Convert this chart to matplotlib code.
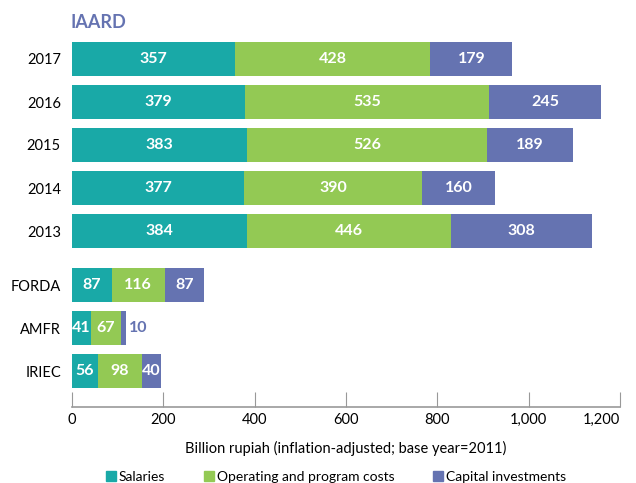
import matplotlib
matplotlib.use('Agg')
from matplotlib import pyplot as plt
from matplotlib.patches import Patch

plt.rcParams['font.family'] = ['Lato', 'DejaVu Sans']

# Rows from top to bottom.
labels: list[str] = ['2017', '2016', '2015', '2014', '2013', 'FORDA', 'AMFR', 'IRIEC']
salaries: list[int] = [357, 379, 383, 377, 384, 87, 41, 56]
operating: list[int] = [428, 535, 526, 390, 446, 116, 67, 98]
capital: list[int] = [179, 245, 189, 160, 308, 87, 10, 40]

series_names: list[str] = ['Salaries', 'Operating and program costs', 'Capital investments']
colors: list[str] = ['#19a9a7', '#93c954', '#6573b1']
title_color: str = '#6573b1'

# Years are evenly spaced; the three agencies sit below with a slightly bigger gap.
positions: list[float] = [i if i < 5 else i + 0.256 for i in range(len(labels))]

fig = plt.figure(figsize=(6.36, 4.83), dpi=100)
ax = fig.add_axes([72 / 636, 1 - 407 / 483, 548 / 636, (407 - 30) / 483])

left = [0] * len(labels)
for name, values, color in zip(series_names, [salaries, operating, capital], colors):
    ax.barh(positions, values, left=left, height=0.79, color=color, label=name)
    for pos, start, value in zip(positions, left, values):
        if value >= 30:
            ax.text(start + value / 2, pos, str(value), ha='center', va='center',
                    color='white', fontsize=11.5, fontweight='bold')
        else:
            ax.text(start + value + 6, pos, str(value), ha='left', va='center',
                    color=color, fontsize=11.5, fontweight='bold')
    left = [a + b for a, b in zip(left, values)]

ax.set_ylim((407 - 59) / 43, (30 - 59) / 43)
ax.set_xlim(0, 1200)
ax.set_yticks(positions)
ax.set_yticklabels(labels, fontsize=10.5)
ax.tick_params(axis='y', length=0, pad=8)
ax.set_xticks(range(0, 1201, 200))
ax.set_xticklabels(['0', '200', '400', '600', '800', '1,000', '1,200'], fontsize=10.5)
ax.tick_params(axis='x', direction='in', length=11, color='#999999', pad=4)
ax.get_xticklabels()[-1].set_horizontalalignment('right')
ax.get_xticklabels()[-1].set_x(1215)

for side in ['top', 'right', 'left']:
    ax.spines[side].set_visible(False)
ax.spines['bottom'].set_color('#999999')
ax.spines['bottom'].set_linewidth(1.2)

ax.set_xlabel('Billion rupiah (inflation-adjusted; base year=2011)', fontsize=10.5, labelpad=10)

fig.text(70 / 636, 1 - 22 / 483, 'IAARD', color=title_color, fontsize=13,
         fontweight='bold', ha='left', va='center')

handles = [Patch(color=c) for c in colors]
fig.legend(handles, series_names, loc='center', bbox_to_anchor=(336 / 636, 1 - 477 / 483),
           ncol=3, frameon=False, fontsize=10, handlelength=0.7, handleheight=0.7,
           handletextpad=0.2, columnspacing=2.8)

fig.savefig('out.png', dpi=100)
